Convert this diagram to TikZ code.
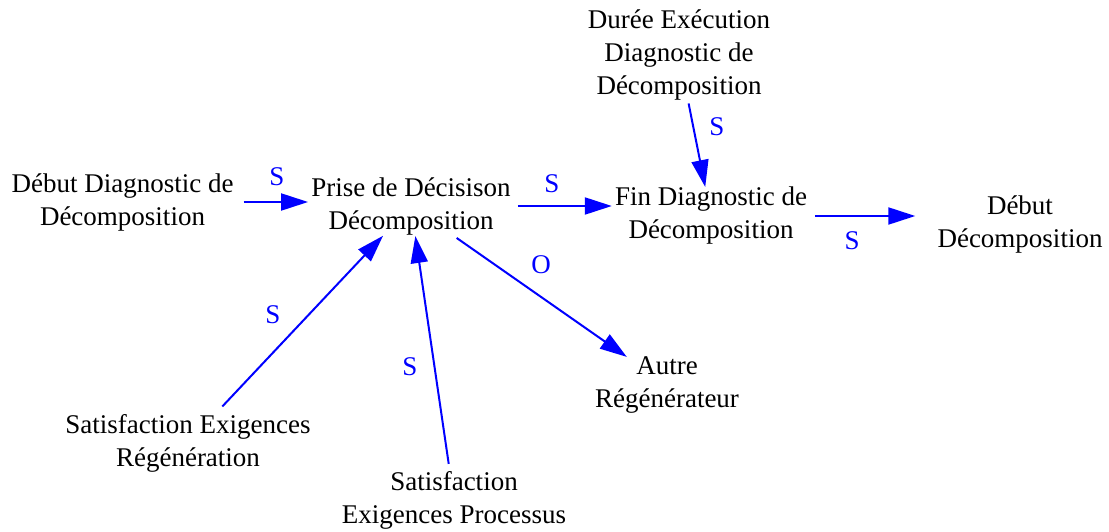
\documentclass[tikz,border=0pt]{standalone}
\usepackage{fontspec}
\setmainfont{Liberation Serif}
\usetikzlibrary{arrows.meta}
\definecolor{linkblue}{RGB}{0,0,255}
\begin{document}
\begin{tikzpicture}[x=1pt,y=-1pt,
  txt/.style={align=center, inner sep=3pt, font=\fontsize{27}{33}\selectfont, text=black},
  lbl/.style={inner sep=0pt, font=\fontsize{27}{33}\selectfont, text=linkblue},
  arr/.style={draw=linkblue, line width=2pt, -{Triangle[length=27pt,width=17pt]}, shorten <=5pt}]
\useasboundingbox (0,0) rectangle (1109,532);
% nodes
\node[txt] (d)  at (122.5,202) {Début Diagnostic de\\Décomposition};
\node[txt] (p)  at (411,206)   {Prise de Décisison\\Décomposition};
\node[txt] (f)  at (711,216)   {Fin Diagnostic de\\Décomposition};
\node[txt] (dd) at (1020,224)  {Début\\Décomposition};
\node[txt] (du) at (679,55)    {Durée Exécution\\Diagnostic de\\Décomposition};
\node[txt] (a)  at (667,385)   {Autre\\Régénérateur};
\node[txt] (sr) at (188,443)   {Satisfaction Exigences\\Régénération};
\node[txt] (sp) at (454,500)   {Satisfaction\\Exigences Processus};
% connectors
\draw[arr, shorten <=7pt] (d.east) -- (d.east -| p.west);
\draw[arr, shorten <=4pt] (p.east) -- (p.east -| f.west);
\draw[arr, shorten <=0pt, shorten >=-3pt] (du) -- (f);
\draw[arr, shorten >=19pt] (f.east) -- (f.east -| dd.west);
\draw[arr, shorten <=0pt, shorten >=-6pt] (p) -- (a);
\draw[arr, shorten <=6pt, shorten >=-3pt] (sr) -- (p);
\draw[arr, shorten <=4pt, shorten >=-2pt] (sp) -- (p);
% labels
\node[lbl] (l1) at (277,177) {S};
\node[lbl] (l2) at (552,184) {S};
\node[lbl] (l3) at (717,127) {S};
\node[lbl] (l4) at (852,241) {S};
\node[lbl] (l5) at (541,265) {O};
\node[lbl] (l6) at (273,315) {S};
\node[lbl] (l7) at (410,367) {S};
\end{tikzpicture}
\end{document}
